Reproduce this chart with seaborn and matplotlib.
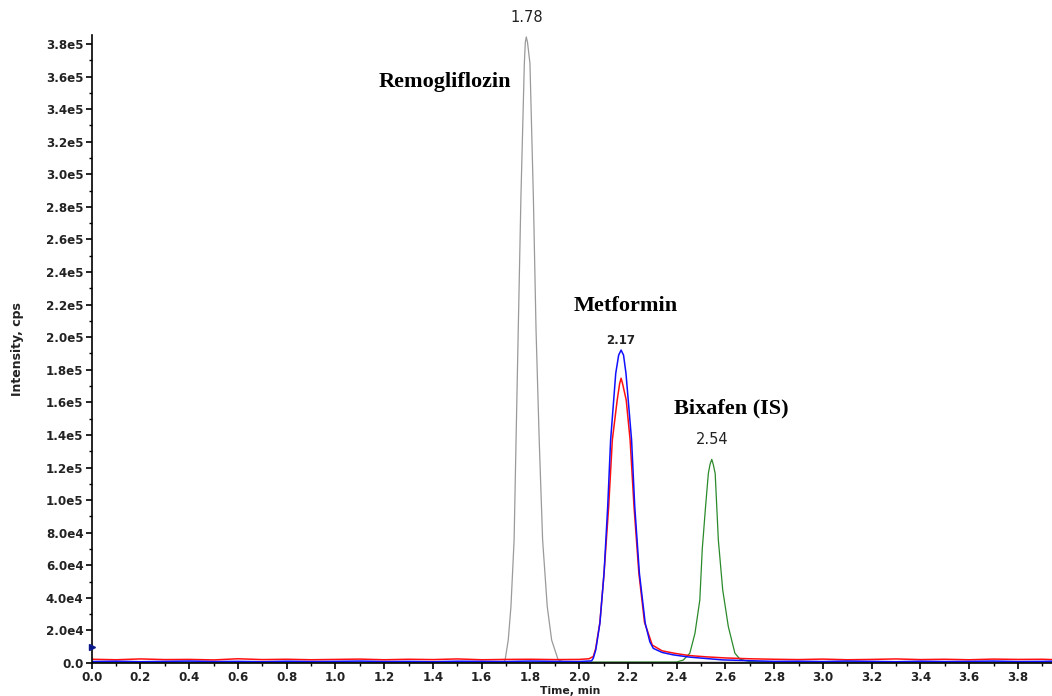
import matplotlib
matplotlib.use('Agg')
import matplotlib.pyplot as plt
from matplotlib.ticker import MultipleLocator, FuncFormatter
import seaborn as sns

# Retention times (min) and intensities (cps)
gray_time = [0.0, 0.8, 1.60, 1.690, 1.696, 1.709, 1.720, 1.733, 1.741, 1.750,
             1.761, 1.775, 1.779, 1.783, 1.788, 1.798, 1.812, 1.823, 1.836,
             1.850, 1.869, 1.887, 1.914, 1.94, 2.2, 3.0, 3.94]
gray_int = [500, 600, 500, 600, 1800, 14100, 34600, 75500, 136900, 204400,
            286200, 368100, 381000, 384300, 381000, 368100, 286200, 204400,
            136900, 75500, 34600, 14100, 1800, 600, 500, 500, 500]

green_time = [0.0, 1.0, 2.0, 2.40, 2.427, 2.454, 2.475, 2.495, 2.505, 2.509,
              2.518, 2.530, 2.537, 2.544, 2.550, 2.558, 2.571, 2.589, 2.612,
              2.639, 2.660, 2.70, 3.2, 3.94]
green_int = [500, 500, 500, 600, 1800, 6000, 18200, 38700, 70000, 77500,
             95000, 116400, 122000, 125000, 122000, 116400, 75500, 44800,
             22300, 6000, 2300, 800, 600, 600]

red_time = [0.0, 0.1, 0.2, 0.3, 0.4, 0.5, 0.6, 0.7, 0.8, 0.9, 1.0, 1.1, 1.2,
            1.3, 1.4, 1.5, 1.6, 1.7, 1.8, 1.9, 2.0, 2.04, 2.058, 2.068, 2.085,
            2.102, 2.121, 2.136, 2.156, 2.166, 2.172, 2.178, 2.193, 2.209,
            2.225, 2.245, 2.268, 2.30, 2.34, 2.39, 2.45, 2.52, 2.6, 2.7, 2.8,
            2.9, 3.0, 3.1, 3.2, 3.3, 3.4, 3.5, 3.6, 3.7, 3.8, 3.9, 3.94]
red_int = [2300, 2000, 2500, 2100, 2200, 1900, 2600, 2100, 2300, 2000, 2200,
           2400, 2000, 2300, 2100, 2500, 2000, 2200, 2300, 2100, 2200, 2600,
           4000, 9000, 25000, 55000, 96000, 136900, 161400, 171500, 174800,
           171500, 161400, 136900, 96000, 55000, 25000, 11000, 7500, 6000,
           4600, 3800, 3100, 2600, 2300, 2100, 2400, 2000, 2200, 2500, 2100,
           2300, 2000, 2400, 2200, 2300, 2100]

blue_time = [0.0, 0.1, 0.2, 0.3, 0.4, 0.5, 0.6, 0.7, 0.8, 0.9, 1.0, 1.1, 1.2,
             1.3, 1.4, 1.5, 1.6, 1.7, 1.8, 1.9, 2.0, 2.051, 2.058, 2.068,
             2.085, 2.102, 2.117, 2.129, 2.150, 2.162, 2.172, 2.182, 2.192,
             2.215, 2.228, 2.247, 2.271, 2.29, 2.304, 2.34, 2.386, 2.454,
             2.59, 2.728, 2.8, 2.9, 3.0, 3.1, 3.2, 3.3, 3.4, 3.5, 3.6, 3.7,
             3.8, 3.9, 3.94]
blue_int = [900, 1100, 800, 1000, 1200, 900, 1000, 800, 1100, 900, 1000, 1200,
            900, 1000, 800, 1100, 1000, 900, 1200, 1000, 900, 1300, 3000, 8000,
            24400, 55100, 96000, 136900, 177800, 189000, 192100, 189000,
            177800, 136900, 96000, 55100, 24400, 13000, 9000, 6500, 5000,
            3600, 1900, 1300, 1000, 1100, 900, 1200, 1000, 800, 1100, 900,
            1000, 1200, 900, 1000, 1100]

# peak annotations: (label, time, intensity)
peak_labels = [('1.78', 1.783, 396000), ('2.17', 2.172, 197700),
               ('2.54', 2.544, 137500)]
compound_names = [('Remogliflozin', 1.45, 356700), ('Metformin', 2.19, 219000),
                  ('Bixafen (IS)', 2.625, 156500)]
threshold_level = 10000


def fmt_intensity(v, pos):
    if abs(v) < 1:
        return '0.0'
    if v < 1e5:
        return f'{v / 1e4:.1f}e4'
    return f'{v / 1e5:.1f}e5'


sns.set_theme(style='ticks')
plt.rcParams['font.family'] = ['DejaVu Sans']

fig = plt.figure(figsize=(10.52, 6.96), dpi=100)
ax = fig.add_axes([0.0872, 0.0474, 0.9128, 0.9023])

sns.lineplot(x=gray_time, y=gray_int, color='#9a9a9a', lw=0.9,
             estimator=None, ax=ax)
sns.lineplot(x=green_time, y=green_int, color='#2a8a2a', lw=0.9,
             estimator=None, ax=ax)
sns.lineplot(x=red_time, y=red_int, color='#ff1010', lw=1.1,
             estimator=None, ax=ax)
sns.lineplot(x=blue_time, y=blue_int, color='#1010ff', lw=1.1,
             estimator=None, ax=ax)

# threshold marker on the y axis
ax.plot([0], [threshold_level], marker='>', color='#0a1a8a', markersize=5,
        clip_on=False, zorder=5)

for text, t, v in peak_labels:
    bold = text == '2.17'
    ax.text(t, v, text, ha='center', va='center',
            fontsize=8.5 if bold else 10.5,
            fontweight='bold' if bold else 'normal', color='#222222',
            clip_on=False)

for text, t, v in compound_names:
    ax.text(t, v, text, ha='center', va='center', fontsize=16,
            fontweight='bold', family='Liberation Serif', color='black')

ax.set_xlim(0, 3.94)
ax.set_ylim(0, 385500)
ax.xaxis.set_major_locator(MultipleLocator(0.2))
ax.xaxis.set_minor_locator(MultipleLocator(0.1))
ax.yaxis.set_major_locator(MultipleLocator(20000))
ax.yaxis.set_minor_locator(MultipleLocator(10000))
ax.xaxis.set_major_formatter(FuncFormatter(lambda v, p: f'{v:.1f}'))
ax.yaxis.set_major_formatter(FuncFormatter(fmt_intensity))

ax.tick_params(which='major', direction='out', length=4, width=1.2,
               labelsize=8.6, pad=2, color='black', labelcolor='#222222')
ax.tick_params(axis='x', which='major', pad=1.5)
ax.tick_params(which='minor', direction='out', length=2.5, width=1.0,
               color='black')
for lab in ax.get_xticklabels() + ax.get_yticklabels():
    lab.set_fontweight('bold')

sns.despine(ax=ax)
for side in ['left', 'bottom']:
    ax.spines[side].set_color('black')
    ax.spines[side].set_linewidth(1.2)

ax.set_xlabel('Time, min', fontsize=7.8, fontweight='bold', color='#222222')
ax.set_ylabel('Intensity, cps', fontsize=9, fontweight='bold',
              color='#222222')
ax.xaxis.set_label_coords(0.498, -0.037)
ax.yaxis.set_label_coords(-0.0705, 0.5)

fig.savefig('out.png', dpi=100)
